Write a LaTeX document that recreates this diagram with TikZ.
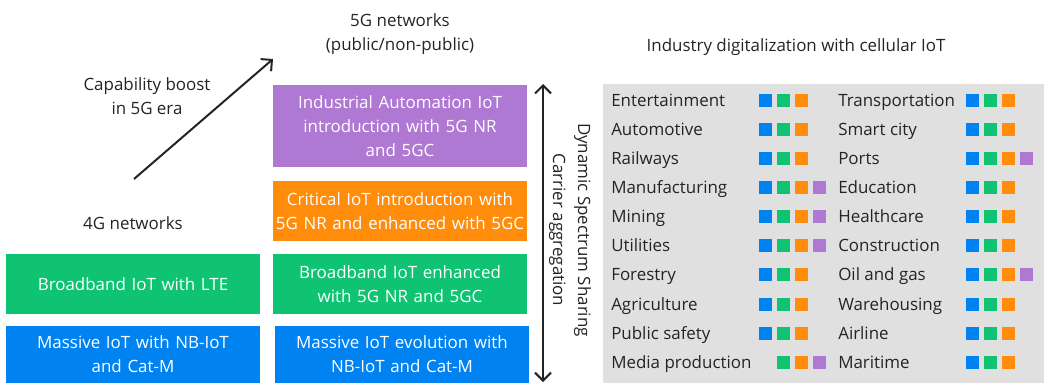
\documentclass[tikz,border=0pt]{standalone}
\usepackage{fontspec}
\setmainfont{Open Sans}
\usetikzlibrary{arrows.meta}
\definecolor{cblue}{HTML}{0082F0}
\definecolor{cgreen}{HTML}{0FC373}
\definecolor{corange}{HTML}{FF8C0A}
\definecolor{cpurple}{HTML}{AF78D2}
\definecolor{cgray}{HTML}{E0E0E0}
\definecolor{ctext}{HTML}{242424}
\definecolor{c1}{HTML}{0082F0}
\definecolor{c2}{HTML}{0FC373}
\definecolor{c3}{HTML}{FF8C0A}
\definecolor{c4}{HTML}{AF78D2}
\begin{document}
\begin{tikzpicture}[x=0.75pt,y=-0.75pt,
  font=\fontsize{12.7}{18}\selectfont, text=ctext,
  boxnode/.style={draw=none, inner sep=0pt, minimum width=190.5pt, text width=190pt,
    align=center, text=white},
  label/.style={align=center, inner sep=0pt},
  item/.style={anchor=base west, inner sep=0pt},
  sq/.style={draw=none, inner sep=0pt, minimum size=9.75pt},
  arr/.style={line width=1.5pt, -{Straight Barb[length=6pt,width=12pt,line width=1.5pt]}},
]
\useasboundingbox (0,0) rectangle (1044,383);
% left column boxes
\node[boxnode, fill=cgreen, minimum height=45pt] (lgreen) at (133,284) {Broadband IoT with LTE};
\node[boxnode, fill=cblue, minimum height=42.75pt] (lblue) at (133,354.5) {Massive IoT with NB-IoT\\and Cat-M};
% right column boxes
\node[boxnode, fill=cpurple, minimum height=61.5pt] (rpurple) at (400,126) {Industrial Automation IoT\\introduction with 5G NR\\and 5GC};
\node[boxnode, fill=corange, minimum height=45pt] (rorange) at (400,211) {Critical IoT introduction with\\5G NR and enhanced with 5GC};
\node[boxnode, fill=cgreen, minimum height=45pt] (rgreen) at (400,284) {Broadband IoT enhanced\\with 5G NR and 5GC};
\node[boxnode, fill=cblue, minimum height=42.75pt] (rblue) at (402,354.5) {Massive IoT evolution with\\NB-IoT and Cat-M};
% labels
\node[label] (g4) at (133,223) {4G networks};
\node[label] (g5) at (400,34) {5G networks\\(public/non-public)};
\node[label] (cap) at (147,96) {Capability boost\\in 5G era};
% diagonal arrow
\coordinate (dstart) at (134,179);
\coordinate (dend) at (273,59);
\draw[arr, draw=ctext] (dstart) -- (dend);
% vertical double arrow
\coordinate (vtop) at (543,84);
\coordinate (vbot) at (543,382);
\draw[line width=1.5pt, draw=ctext, {Straight Barb[length=6pt,width=12pt,line width=1.5pt]}-{Straight Barb[length=6pt,width=12pt,line width=1.5pt]}] (vbot) -- (vtop);
\node[label, rotate=-90, font=\fontsize{12.7}{18.75}\selectfont] (dss) at (570,230) {Dynamic Spectrum Sharing\\Carrier aggregation};
% right panel
\node[label] (title) at (796,47) {Industry digitalization with cellular IoT};
\fill[cgray] (603,84) rectangle (1044,383);
\foreach \nm/\sq [count=\i from 0] in {Entertainment/{1,2,3}, Automotive/{1,2,3}, Railways/{1,2,3},
  Manufacturing/{1,2,3,4}, Mining/{1,2,3,4}, Utilities/{1,2,3,4}, Forestry/{1,2,3},
  Agriculture/{1,2,3}, Public safety/{1,2,3}, Media production/{2,3,4}} {
  \node[item] (L\i) at (611,{100+29.15*\i+6}) {\nm};
  \foreach \k in \sq {
    \node[sq, fill=c\k] (Ls\i-\k) at ({765.5+18*(\k-1)},{100+29.15*\i}) {};
  }
}
\foreach \nm/\sq [count=\i from 0] in {Transportation/{1,2,3}, Smart city/{1,2,3}, Ports/{1,2,3,4},
  Education/{1,2,3}, Healthcare/{1,2,3}, Construction/{1,2,3}, Oil and gas/{1,2,3,4},
  Warehousing/{1,2,3}, Airline/{1,2,3}, Maritime/{1,2,3}} {
  \node[item] (R\i) at (838,{100+29.15*\i+6}) {\nm};
  \foreach \k in \sq {
    \node[sq, fill=c\k] (Rs\i-\k) at ({972.5+18*(\k-1)},{100+29.15*\i}) {};
  }
}
\end{tikzpicture}
\end{document}
